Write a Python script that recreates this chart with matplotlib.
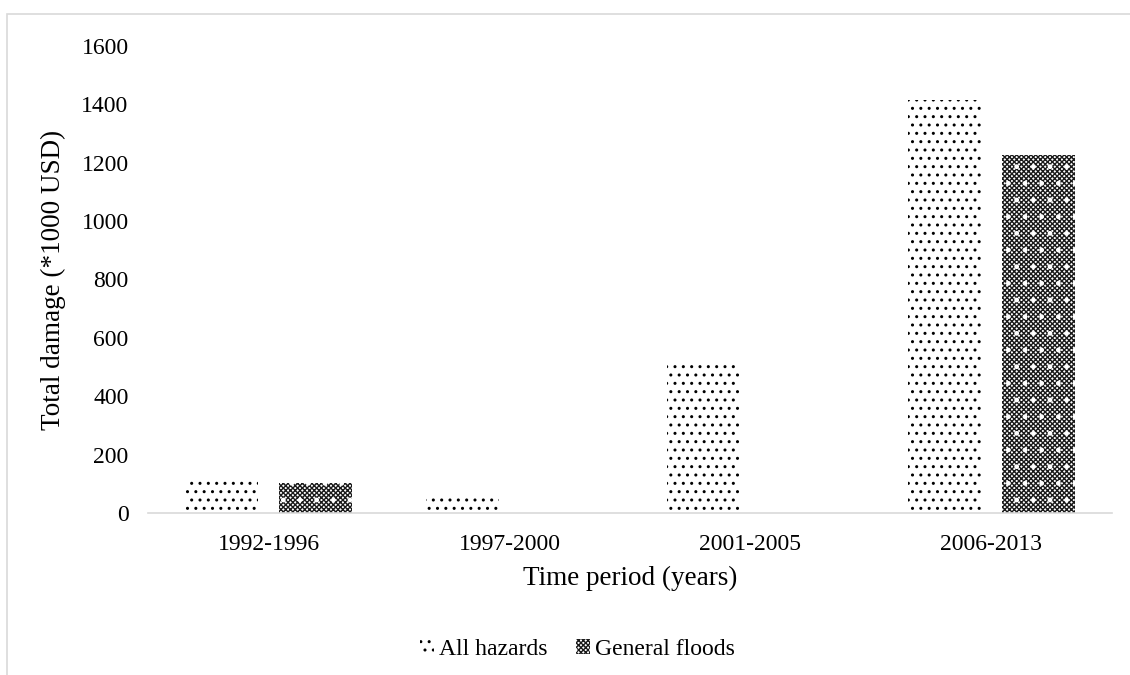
import numpy as np
import matplotlib.pyplot as plt
from matplotlib.patches import Patch, Rectangle

periods = ['1992-1996', '1997-2000', '2001-2005', '2006-2013']
all_hazards = [113, 50, 524, 1415]
general_floods = [104, 0, 0, 1228]
yticks = [0, 200, 400, 600, 800, 1000, 1200, 1400, 1600]

plt.rcParams['font.family'] = ['Liberation Serif', 'DejaVu Serif']
plt.rcParams['hatch.linewidth'] = 1.0
fs = 17
fs_lab = 19.5
grey = '#d9d9d9'

fig = plt.figure(figsize=(11.3, 6.75), dpi=100)
ax = fig.add_axes([0.131, 0.240, 0.853, 0.692])

x = np.arange(len(periods))
w = 0.30
off = 0.195

# dotted bars
ax.bar(x - off, all_hazards, w, facecolor='white', edgecolor='black',
       hatch='..', linewidth=0)
# checkered bars: dense cross hatch with white dots on top
ax.bar(x + off, general_floods, w, facecolor='white', edgecolor='#1a1a1a',
       hatch='xxxxxxx', linewidth=0)
ax.bar(x + off, general_floods, w, facecolor='none', edgecolor='white',
       hatch='.', linewidth=0)

ax.set_xlim(-0.5, len(periods) - 0.5)
ax.set_ylim(0, 1600)
ax.set_yticks(yticks)
ax.set_xticks(x)
ax.set_xticklabels(periods)
ax.tick_params(axis='both', length=0, labelsize=fs)
ax.tick_params(axis='y', pad=14)
ax.tick_params(axis='x', pad=15)

for s in ['top', 'right', 'left']:
    ax.spines[s].set_visible(False)
ax.spines['bottom'].set_color(grey)
ax.spines['bottom'].set_linewidth(1.2)

ax.set_xlabel('Time period (years)', fontsize=fs_lab, labelpad=8)
ax.set_ylabel('Total damage (*1000 USD)', fontsize=fs_lab, labelpad=11)

h1 = Patch(facecolor='white', edgecolor='black', hatch='..', linewidth=0)
h2a = Patch(facecolor='white', edgecolor='#1a1a1a', hatch='xxxxxxx', linewidth=0)
h2b = Patch(facecolor='none', edgecolor='white', hatch='.', linewidth=0)
fig.legend([h1, (h2a, h2b)], ['All hazards', 'General floods'],
           loc='center', bbox_to_anchor=(0.511, 0.038), ncol=2, frameon=False,
           fontsize=fs, handlelength=0.6, handleheight=0.6,
           handletextpad=0.2, columnspacing=1.2)

# outer chart frame
fig.patches.append(Rectangle((7 / 1130, -0.1), 2, 1 - 14 / 675 + 0.1,
                             transform=fig.transFigure, fill=False,
                             edgecolor=grey, linewidth=1.2))

fig.savefig('out.png', dpi=100)
